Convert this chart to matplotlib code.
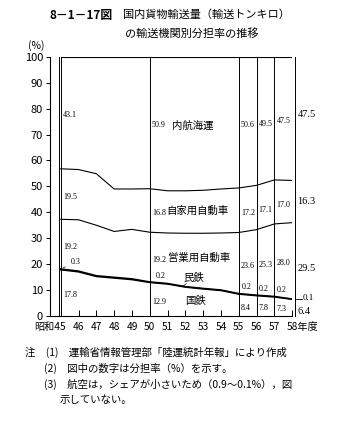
import matplotlib
matplotlib.use("Agg")
import matplotlib.pyplot as plt
import numpy as np

plt.rcParams['font.family'] = ['Noto Sans CJK JP', 'DejaVu Sans']

# fiscal years (Showa)
years = [45, 46, 47, 48, 49, 50, 51, 52, 53, 54, 55, 56, 57, 58]
xlabels = ["昭和45", "46", "47", "48", "49", "50", "51", "52", "53", "54",
           "55", "56", "57", "58年度"]

# share (%) by mode, stacked from bottom
kokutetsu = [17.8, 17.0, 15.2, 14.6, 14.0, 12.9, 12.3, 11.1, 10.4, 9.8, 8.4, 7.8, 7.3, 6.4]
mintetsu = [0.3, 0.3, 0.3, 0.3, 0.3, 0.2, 0.2, 0.2, 0.2, 0.2, 0.2, 0.2, 0.2, 0.1]
eigyo = [19.2, 19.8, 19.5, 17.7, 19.1, 19.2, 19.5, 20.6, 21.3, 22.0, 23.6, 25.3, 28.0, 29.5]
jikayo = [19.5, 19.4, 19.9, 16.4, 15.6, 16.8, 16.3, 16.4, 16.6, 17.0, 17.2, 17.1, 17.0, 16.3]
naiko = [43.1, 43.5, 45.1, 51.0, 51.0, 50.9, 51.7, 51.7, 51.5, 51.0, 50.6, 49.5, 47.5, 47.5]

label_years = [45, 50, 55, 56, 57]
series = [kokutetsu, mintetsu, eigyo, jikayo, naiko]

NUMFONT = "Liberation Serif"

fig = plt.figure(figsize=(3.55, 4.28), dpi=100)
ax = fig.add_axes([0.141, 0.262, 0.682, 0.605])

x = np.array(years)
stack = np.cumsum(np.array(series), axis=0)
lows = np.vstack([np.zeros(len(years)), stack[:-1]])

for i, top in enumerate(stack):
    lw = 1.1 if i < 2 else 0.8
    if i == 4:
        top = np.full(len(years), 100.0)
    ax.plot(x, top, color="black", lw=lw)

# vertical dividers
for yr in label_years + [58]:
    ax.plot([yr, yr], [0, 100], color="black", lw=0.7)
ax.plot([44.88, 44.88], [0, 100], color="black", lw=0.7)
ax.plot([58.15, 58.15], [0, 100], color="black", lw=0.7, clip_on=False)

# small value labels (民鉄 handled separately)
for yr in label_years:
    j = years.index(yr)
    for i in [0, 2, 3, 4]:
        lo = lows[i][j]
        hi = 100.0 if i == 4 else stack[i][j]
        ax.text(yr + 0.12, (lo + hi) / 2 - 1, "%.1f" % series[i][j],
                fontsize=5.8, va="center", ha="left", family=NUMFONT)

# 民鉄 labels
j = 0
ax.annotate("%.1f" % mintetsu[j], xy=(45, stack[1][j]), xytext=(45.55, 20.8),
            fontsize=5.8, family=NUMFONT, va="center",
            arrowprops=dict(arrowstyle="-", lw=0.5))
j = years.index(50)
ax.annotate("%.1f" % mintetsu[j], xy=(50, stack[1][j]), xytext=(50.35, 15.4),
            fontsize=5.8, family=NUMFONT, va="center",
            arrowprops=dict(arrowstyle="-", lw=0.5))
for yr in [55, 56, 57]:
    j = years.index(yr)
    ax.text(yr + 0.15, stack[1][j] + 2.5, "%.1f" % mintetsu[j], fontsize=5.8,
            family=NUMFONT, va="center")

# right side labels (58)
j = years.index(58)
rfs = 7.5
ax.text(58.3, (stack[3][j] + 100) / 2 + 1.5, "%.1f" % naiko[j], fontsize=rfs, va="center",
        family=NUMFONT, clip_on=False)
ax.text(58.3, (stack[2][j] + stack[3][j]) / 2, "%.1f" % jikayo[j], fontsize=rfs,
        va="center", family=NUMFONT, clip_on=False)
ax.text(58.3, (stack[1][j] + stack[2][j]) / 2 - 3, "%.1f" % eigyo[j], fontsize=rfs,
        va="center", family=NUMFONT, clip_on=False)
ax.text(58.6, stack[1][j] + 0.4, "%.1f" % mintetsu[j], fontsize=6.5, va="center",
        family=NUMFONT, clip_on=False)
ax.plot([58.15, 58.55], [stack[1][j], stack[1][j]], color="black", lw=0.6, clip_on=False)
ax.text(58.3, stack[0][j] / 2 - 1.5, "%.1f" % kokutetsu[j], fontsize=rfs, va="center",
        family=NUMFONT, clip_on=False)

# category names
ax.text(51.25, 73.4, "内航海運", fontsize=7.5, va="center")
ax.text(50.95, 40.5, "自家用自動車", fontsize=7.5, va="center")
ax.text(51.05, 22.5, "営業用自動車", fontsize=7.5, va="center")
ax.text(51.9, 14.5, "民鉄", fontsize=7.5, va="center")
ax.plot([52.05, 51.85], [12.4, 11.4], color="black", lw=0.5)
ax.text(52.0, 5.8, "国鉄", fontsize=7.5, va="center")

ax.set_xlim(44.4, 58.0)
ax.set_ylim(0, 100)
ax.set_xticks(years)
ax.tick_params(axis="x", direction="in", length=4, width=0.7, labelbottom=False)
# tick labels as annotations so the era prefix / year suffix hang off the ends
for yr, lab in zip(years, xlabels):
    if lab.startswith("昭和"):
        ha, dx = "right", 4.0
    elif lab.endswith("年度"):
        ha, dx = "left", -4.0
    else:
        ha, dx = "center", 0
    ax.annotate(lab, xy=(yr, 0), xytext=(dx, -4.5), textcoords="offset points",
                ha=ha, va="top", fontsize=7.3, annotation_clip=False)
ax.set_yticks(range(0, 101, 10))
ax.set_yticklabels([str(v) for v in range(0, 101, 10)], fontsize=8)
ax.tick_params(axis="y", direction="out", length=3, width=0.7, pad=2)
for s in ["top", "right"]:
    ax.spines[s].set_visible(False)
for s in ["left", "bottom"]:
    ax.spines[s].set_linewidth(0.8)
ax.set_facecolor("none")
ax.text(-0.09, 1.03, "(%)", transform=ax.transAxes, fontsize=7.5)

# title
fig.text(50 / 355, 1 - 15 / 428, "8－1－17図", fontsize=8.5, va="center", fontweight="bold")
fig.text(123 / 355, 1 - 15 / 428, "国内貨物輸送量（輸送トンキロ）", fontsize=8, va="center")
fig.text(125 / 355, 1 - 33 / 428, "の輸送機関別分担率の推移", fontsize=8, va="center")

# notes
notes = [
    (25, 352, "注　(1)　運輸省情報管理部「陸運統計年報」により作成"),
    (44, 368, "(2)　図中の数字は分担率（%）を示す。"),
    (44, 384, "(3)　航空は，シェアが小さいため（0.9～0.1%），図"),
    (60, 400, "示していない。"),
]
for nx, ny, t in notes:
    fig.text(nx / 355, 1 - ny / 428, t, fontsize=7.5, va="center")

fig.savefig("out.png", dpi=100)
